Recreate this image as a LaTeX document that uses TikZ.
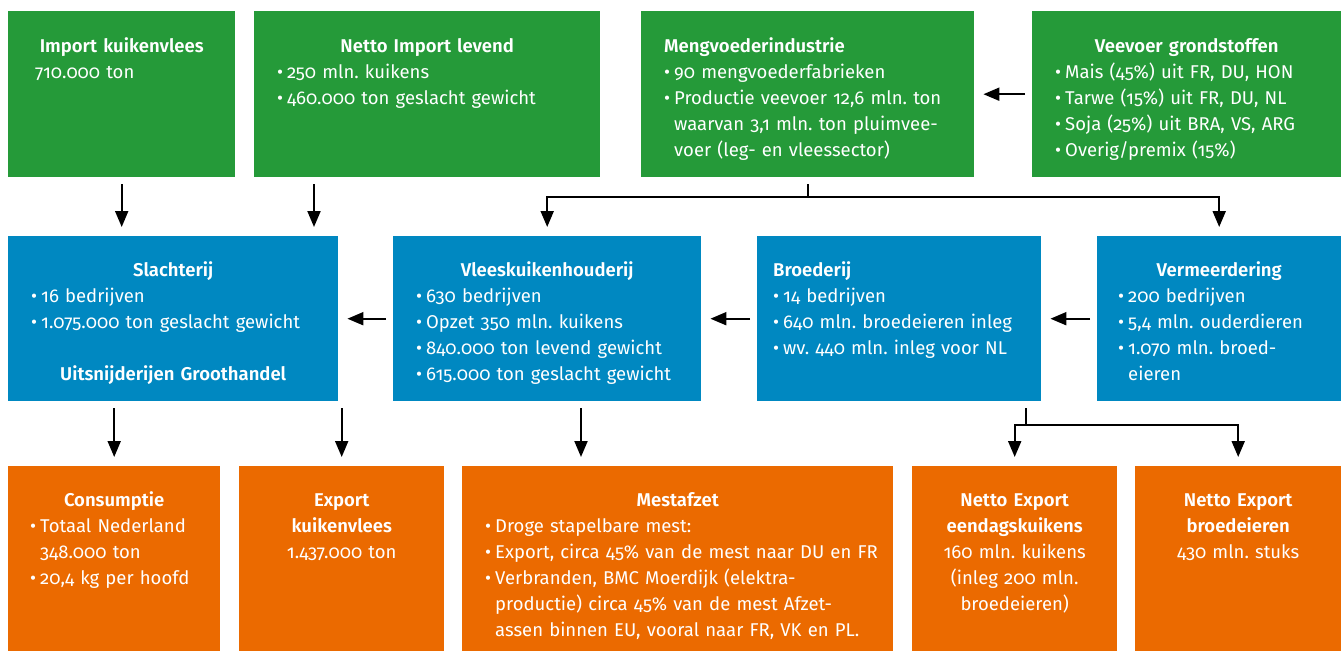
\documentclass[tikz,border=0pt]{standalone}
\usepackage{fontspec}
\setmainfont{Fira Sans}[Numbers=OldStyle, BoldFont={Fira Sans SemiBold}]
\usetikzlibrary{arrows.meta}
\definecolor{kipgroen}{RGB}{37,154,57}
\definecolor{kipblauw}{RGB}{0,136,193}
\definecolor{kiporanje}{RGB}{235,106,0}
\newcommand\bu[1]{\leftline{\makebox[10pt][l]{\textbullet}#1}}
\newcommand\ind[1]{\leftline{\hspace*{10pt}#1}}
\newcommand\kop[1]{\centerline{\bfseries #1}}
\tikzset{
  cell/.style={anchor=north west, inner ysep=0pt, inner xsep=23pt, text=white, align=left, font=\fontsize{18.5}{26}\selectfont\frenchspacing},
  rij1/.style={cell, fill=kipgroen, text height=41pt, text depth=125pt},
  rij2/.style={cell, fill=kipblauw, text height=40pt, text depth=125pt},
  rij3/.style={cell, fill=kiporanje, text height=40pt, text depth=145pt},
  arr/.style={line width=2pt, -{Triangle[width=13pt,length=16pt]}, shorten <=7pt, shorten >=9pt},
  lijn/.style={line width=2pt}
}

\begin{document}
\begin{tikzpicture}[x=1pt, y=-1pt]
        \useasboundingbox (0,0) rectangle (1341,651);
        \node[rij1, text width=173pt, inner xsep=27pt] (imp) at (8,11) {\kop{Import kuikenvlees}
            \leftline{710.000 ton}};
        \node[rij1, text width=300pt] (netimp) at (254,11) {\kop{Netto Import levend}
            \bu{250 mln. kuikens}
            \bu{460.000 ton geslacht gewicht}};
        \node[rij1, text width=287pt] (meng) at (641,11) {\leftline{\bfseries Mengvoederindustrie}
            \bu{90 mengvoederfabrieken}
            \bu{Productie veevoer 12,6 mln. ton}
            \ind{waarvan 3,1 mln. ton pluimvee-}
            \ind{voer (leg- en vleessector)}};
        \node[rij1, text width=263pt] (veevoer) at (1032,11) {\kop{Veevoer grondstoffen}
            \bu{Mais (45\%) uit FR, DU, HON}
            \bu{Tarwe (15\%) uit FR, DU, NL}
            \bu{Soja (25\%) uit BRA, VS, ARG}
            \bu{Overig/premix (15\%)}};

        \node[rij2, text width=284pt] (slacht) at (8,236) {\kop{Slachterij}
            \bu{16 bedrijven}
            \bu{1.075.000 ton geslacht gewicht}
            \vskip26pt
            \kop{Uitsnijderijen Groothandel}};
        \node[rij2, text width=262pt] (vlees) at (393,236) {\kop{Vleeskuikenhouderij}
            \bu{630 bedrijven}
            \bu{Opzet 350 mln. kuikens}
            \bu{840.000 ton levend gewicht}
            \bu{615.000 ton geslacht gewicht}};
        \node[rij2, text width=252pt, inner xsep=16pt] (broed) at (757,236) {\leftline{\bfseries Broederij}
            \bu{14 bedrijven}
            \bu{640 mln. broedeieren inleg}
            \bu{wv. 440 mln. inleg voor NL}};
        \node[rij2, text width=202pt, inner xsep=21pt] (verm) at (1097,236) {\kop{Vermeerdering}
            \bu{200 bedrijven}
            \bu{5,4 mln. ouderdieren}
            \bu{1.070 mln. broed-}
            \ind{eieren}};

        \node[rij3, text width=168pt, inner xsep=22pt] (cons) at (8,466) {\kop{Consumptie}
            \bu{Totaal Nederland}
            \ind{348.000 ton}
            \bu{20,4 kg per hoofd}};
        \node[rij3, text width=159pt] (expk) at (239,466) {\kop{Export}
            \kop{kuikenvlees}
            \centerline{1.437.000 ton}};
        \node[rij3, text width=385pt] (mest) at (462,466) {\kop{Mestafzet}
            \bu{Droge stapelbare mest:}
            \bu{Export, circa 45\% van de mest naar DU en FR}
            \bu{Verbranden, BMC Moerdijk (elektra-}
            \ind{productie) circa 45\% van de mest Afzet-}
            \ind{assen binnen EU, vooral naar FR, VK en PL.}};
        \node[rij3, text width=159pt] (expe) at (912,466) {\kop{Netto Export}
            \kop{eendagskuikens}
            \centerline{160 mln. kuikens}
            \centerline{(inleg 200 mln.}
            \centerline{broedeieren)}};
        \node[rij3, text width=160pt] (expb) at (1135,466) {\kop{Netto Export}
            \kop{broedeieren}
            \centerline{430 mln. stuks}};

        \draw[arr] (veevoer) -- (meng);
        \draw[arr] (verm) -- (broed);
        \draw[arr] (broed) -- (vlees);
        \draw[arr] (vlees) -- (slacht);

        \coordinate (n1) at ([xshift=60pt]netimp.south west);
        \draw[arr] (imp) -- (imp |- slacht.north);
        \draw[arr] (n1) -- (n1 |- slacht.north);

        \coordinate (m1) at ([yshift=-20pt]meng.south);
        \draw[lijn, shorten <=7pt] (meng.south) -- (m1);
        \draw[arr, shorten <=0pt] (m1) -| (vlees.north);
        \draw[arr, shorten <=0pt] (m1) -| (verm.north);

        \coordinate (v1) at ([xshift=188pt]vlees.south west);
        \draw[arr] (cons.north |- slacht.south) -- (cons.north);
        \draw[arr] (expk.north |- slacht.south) -- (expk.north);
        \draw[arr] (v1) -- (v1 |- mest.north);

        \coordinate (b1) at ([xshift=-15pt,yshift=-24pt]broed.south east);
        \draw[lijn, shorten <=7pt] (b1 |- broed.south) -- (b1);
        \draw[arr, shorten <=0pt] (b1) -| (expe.north);
        \draw[arr, shorten <=0pt] (b1) -| (expb.north);
\end{tikzpicture}
\end{document}
